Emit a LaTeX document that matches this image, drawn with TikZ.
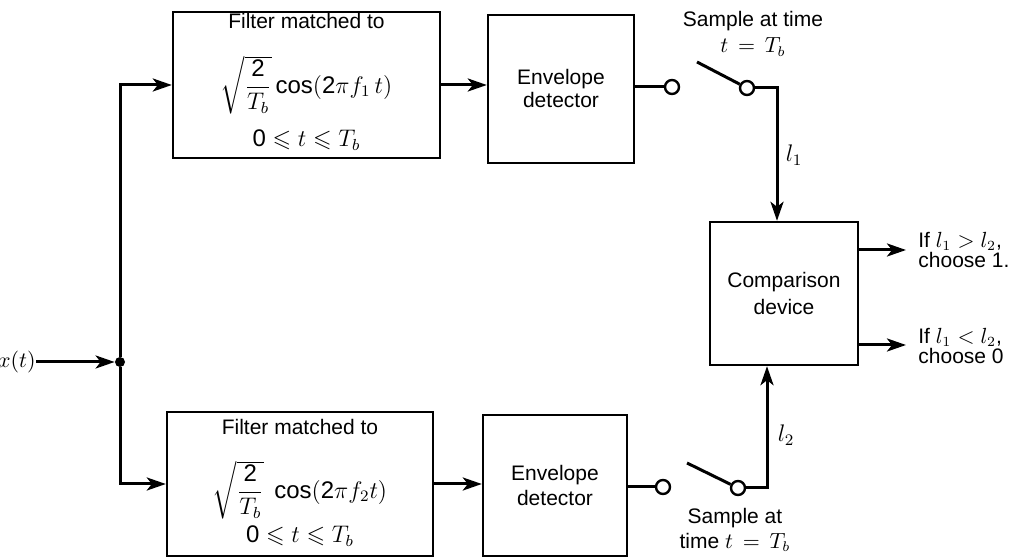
\documentclass[tikz,border=0pt]{standalone}
\usepackage{amsmath,amssymb}
\usepackage{fontspec}
\setmainfont{Liberation Sans}
\usetikzlibrary{arrows.meta,calc}
\begin{document}
\begin{tikzpicture}[x=0.5pt,y=-0.5pt,
  font=\fontsize{10.5}{12.5}\selectfont,
  box/.style={draw,line width=1.2pt,inner sep=0pt},
  wire/.style={line width=1.5pt},
  arr/.style={wire,-{Stealth[length=9.5pt,width=6.5pt,inset=2.5pt]}},
  term/.style={circle,draw,line width=1.2pt,fill=white,minimum size=7pt,inner sep=0pt},
  txt/.style={inner sep=0pt,align=center},
  mth/.style={txt,font=\fontsize{12}{14}\selectfont},
  dot/.style={circle,fill,inner sep=0pt,minimum size=5pt}]
\useasboundingbox (0,0) rectangle (1017,560);

% top branch
\node[box,minimum width=133.5pt,minimum height=73pt] (f1) at (306.5,85) {};
\node[txt] (f1a) at (306.5,21) {Filter matched to};
\node[mth] (f1b) at (306.5,85) {$\sqrt{\dfrac{\text{2}}{T_b}}\cos(\text{2}\pi f_1\, t)$};
\node[mth] (f1c) at (306.5,140) {$\text{0}\leqslant t\leqslant T_b$};
\node[box,minimum width=73pt,minimum height=74pt,align=center,
      font=\fontsize{10.5}{11.5}\selectfont] (e1) at (561,89) {Envelope\\detector};

% bottom branch
\node[box,minimum width=133pt,minimum height=72pt] (f2) at (300,484) {};
\node[txt] (f2a) at (300,427) {Filter matched to};
\node[mth] (f2b) at (300,490) {$\sqrt{\dfrac{\text{2}}{T_b}}\;\cos(\text{2}\pi f_2 t)$};
\node[mth] (f2c) at (300,536) {$\text{0}\leqslant t\leqslant T_b$};
\node[box,minimum width=72pt,minimum height=70.5pt,align=center,
      font=\fontsize{10.5}{12.5}\selectfont] (e2) at (555,485.5) {Envelope\\detector};

% comparison
\node[box,minimum width=74pt,minimum height=71.5pt,align=center,
      font=\fontsize{10.5}{13.5}\selectfont] (comp) at (784,293.5) {Comparison\\device};

% input
\node[dot] (j) at (120,362) {};
\node[txt,anchor=east] (x) at (36,362) {$x(t)$};
\draw[arr] (x.east) -- (j.west);
\draw[arr] (j) |- (f1.west);
\draw[arr] (j) |- (f2.west);

% filter -> envelope
\draw[arr] (f1.east) -- (f1.east -| e1.west);
\draw[arr] (f2.east) -- (f2.east -| e2.west);

% top switch
\node[term] (c1a) at (672,87) {};
\node[term] (c1b) at (747,88) {};
\coordinate (s1) at (697,62);
\coordinate (k1) at (777,88);
\draw[wire] (e1.east |- c1a) -- (c1a.west);
\draw[wire] (s1) -- (c1b);
\draw[arr] (c1b.east) -- (k1) -- (k1 |- comp.north);
\node[txt,font=\fontsize{10.5}{13}\selectfont] (sm1) at (753,34) {Sample at time\\$t\,=\,T_b$};
\node[mth] (l1) at (794,155) {$l_1$};

% bottom switch
\node[term] (c2a) at (663,487) {};
\node[term] (c2b) at (738,488) {};
\coordinate (s2) at (687,463);
\coordinate (k2) at (767,488);
\draw[wire] (e2.east |- c2a) -- (c2a.west);
\draw[wire] (s2) -- (c2b);
\draw[arr] (c2b.east) -- (k2) -- (k2 |- comp.south);
\node[txt,font=\fontsize{10.5}{12.5}\selectfont] (sm2) at (735,530) {Sample at\\time $t\,=\,T_b$};
\node[mth] (l2) at (786,435) {$l_2$};

% outputs
\coordinate (o1) at (906,250);
\coordinate (o2) at (906,345);
\draw[arr] (comp.east |- o1) -- (o1);
\draw[arr] (comp.east |- o2) -- (o2);
\node[txt,anchor=west,align=left,font=\fontsize{10.5}{9}\selectfont] (t1) at (918,250) {If $l_1>l_2$,\\choose 1.};
\node[txt,anchor=west,align=left,font=\fontsize{10.5}{10}\selectfont] (t2) at (918,346) {If $l_1<l_2$,\\choose 0};
\end{tikzpicture}
\end{document}
